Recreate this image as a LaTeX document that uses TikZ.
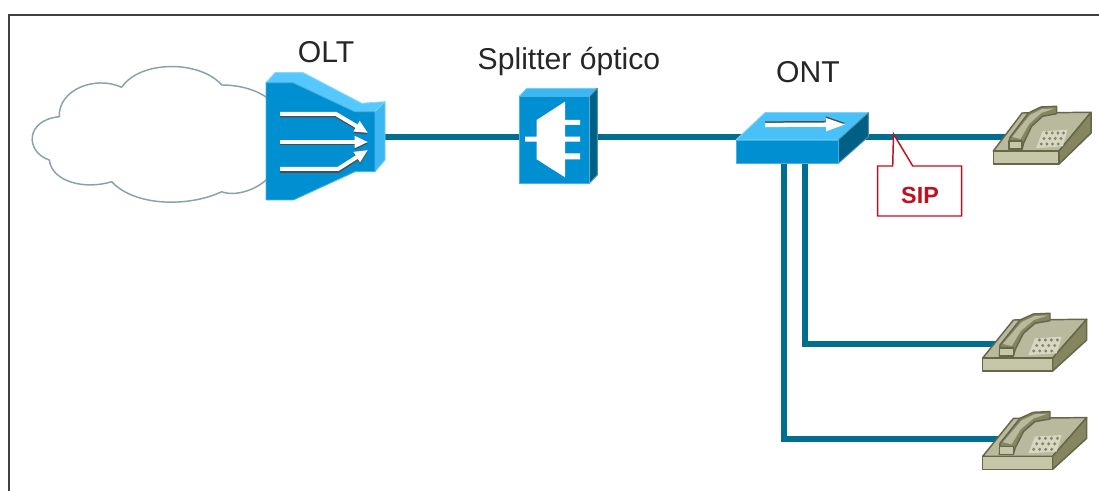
\documentclass[tikz,border=0pt]{standalone}
\usepackage{fontspec}
\setmainfont{Liberation Sans}
\usetikzlibrary{arrows.meta}
\definecolor{fibrecolor}{HTML}{006F8F}
\definecolor{cloudcolor}{HTML}{86A3AA}
\definecolor{bluefront}{HTML}{0090D2}
\definecolor{bluetop}{HTML}{55C8FF}
\definecolor{blueside}{HTML}{005F85}
\definecolor{phoneline}{HTML}{66664A}
\definecolor{phonefront}{HTML}{C6C6A8}
\definecolor{phonetop}{HTML}{B9B99E}
\definecolor{phoneside}{HTML}{85855F}
\definecolor{siprojo}{HTML}{C00F1E}
\begin{document}
\begin{tikzpicture}
	[
		x=0.75pt,
		y=-0.75pt,
		% Make a style for the blue links.
		fibre/.style={color=fibrecolor, line width=3.9pt},
		% And one for the faces of a device.
		face/.style={fill=#1, draw=#1!70!white, line width=0.7pt, line join=round},
		whitearrow/.style={white, line width=3pt, -{Triangle[length=10pt,width=8.5pt]}},
		shadowarrow/.style={black!70, line width=3pt, -{Triangle[length=10pt,width=8.5pt]}},
		caption/.style={font=\fontsize{22.6}{25}\selectfont, text=black!85},
		phonepart/.style={fill=#1, draw=phoneline, line width=1.1pt, line join=round},
		% A telephone, drawn from the lower left corner of its base.
		telephone/.pic={
			\filldraw[phonepart=phonetop] (0,-13) -- (30.7,-51) -- (104,-51.7) -- (70,-13) -- cycle;
			\filldraw[phonepart=phoneside] (70,0) -- (104,-31) -- (104,-51.7) -- (70,-13) -- cycle;
			\filldraw[phonepart=phonefront] (0,0) -- (70,0) -- (70,-13) -- (0,-13) -- cycle;
			\fill[phonefront!70!white] (45.7,-16) -- (52.3,-32.7) -- (79,-34.3) -- (74,-17.7) -- cycle;
			\foreach \r/\s in {0/56.7,1/54,2/51}
				\foreach \c in {0,...,3}
					\fill[phoneline!80!white] (\s+6*\c,-31+5.5*\r) circle (1.7);
			\filldraw[phonepart=phoneside] (17.3,-26) -- (37.3,-51) -- (50.7,-57) -- (67.3,-57.7) -- (67.3,-50.3) -- (52.3,-47.7) -- (40.7,-37.7) -- (32.3,-21) -- (30.7,-15) -- (16.7,-15) -- cycle;
			\fill[phonetop] (20,-27) -- (39,-49) -- (52,-55) -- (65,-55.5) -- (51,-51) -- (38,-40) -- (29,-25) -- cycle;
			\filldraw[phonepart=phonefront] (16.7,-23) -- (30.7,-23) -- (30.7,-15) -- (16.7,-15) -- cycle;
		}
	]
		% Points where the links start and end.
		\coordinate (olt) at (380,137);
		\coordinate (splitter) at (558,137);
		\coordinate (ont) at (800,137);
		\coordinate (onta) at (805,150);
		\coordinate (ontb) at (784,150);
		\coordinate (phonea) at (1015,137);
		\coordinate (phoneb) at (1005,344);
		\coordinate (phonec) at (1005,439);
		\coordinate (siptip) at (893.5,134);

		\useasboundingbox (0,0) rectangle (1099,491);

		% Frame
		\draw[black!75, line width=1pt] (9,491) -- (9,15) -- (1099,15);

		% Cloud
		\draw[color=cloudcolor, line width=1.1pt]
			(121.7,87.3) .. controls (140,60) and (200,60) .. (221.7,85)
			.. controls (240,85) and (258,90) .. (270,100)
			-- (270,176)
			.. controls (258,190) and (235,197) .. (221.7,191.7)
			.. controls (190,207) and (135,207) .. (111.7,181.7)
			.. controls (85,190) and (52,182) .. (49.3,160)
			.. controls (25,152) and (25,120) .. (59.3,116.7)
			.. controls (58,90) and (95,75) .. (121.7,87.3);

		% Draw links
		\draw[fibre] (olt) -- (splitter);
		\draw[fibre] (splitter) -- (ont);
		\draw[fibre] (ont) -- (phonea);
		\draw[fibre] (onta) |- (phoneb);
		\draw[fibre] (ontb) |- (phonec);

		% OLT
		\filldraw[face=bluetop] (266,82.7) -- (275,72.7) -- (303.3,72.7) -- (361.7,103.3) -- (385,101.7) -- (375,111.7) -- (355,111.7) -- (293.3,82.7) -- cycle;
		\filldraw[face=bluetop!70!bluefront] (375,111.7) -- (385,101.7) -- (385,160) -- (375,171.7) -- cycle;
		\filldraw[face=bluefront] (266,82.7) -- (293.3,82.7) -- (355,111.7) -- (375,111.7) -- (375,171.7) -- (355,171.7) -- (293.3,200) -- (266,200) -- cycle;
		\draw[shadowarrow] (280,115.5) -- (336,115.5) -- (368,134.5);
		\draw[shadowarrow] (280,143.5) -- (368,143.5);
		\draw[shadowarrow] (280,171) -- (338,171) -- (368,151.5);
		\draw[whitearrow] (280,114) -- (336,114) -- (368,133);
		\draw[whitearrow] (280,142) -- (368,142);
		\draw[whitearrow] (280,169) -- (338,169) -- (368,150);
		\node[caption] (olttext) at (326,52) {OLT};

		% Splitter
		\filldraw[face=bluetop!70!bluefront] (519,96.7) -- (526.7,88.3) -- (597.3,88.3) -- (589.3,96.7) -- cycle;
		\filldraw[face=blueside] (589.3,96.7) -- (597.3,88.3) -- (597.3,175) -- (589.3,183.3) -- cycle;
		\filldraw[face=bluefront] (519,96.7) -- (589.3,96.7) -- (589.3,183.3) -- (519,183.3) -- cycle;
		\fill[white] (525,136.7) -- (536.7,136.7) -- (536.7,120) -- (565,101.7) -- (565,120) -- (580,120) -- (580,125) -- (565,125) -- (565,136.7) -- (580,136.7) -- (580,141.7) -- (565,141.7) -- (565,153.3) -- (580,153.3) -- (580,159.3) -- (565,159.3) -- (565,177.3) -- (536.7,159.3) -- (536.7,141.7) -- (525,141.7) -- cycle;
		\node[caption] (splittertext) at (569,62) {Splitter óptico};

		% ONT
		\filldraw[face=bluetop!85!bluefront] (736,140) -- (765,112.7) -- (868.3,112.7) -- (838.3,140) -- cycle;
		\filldraw[face=blueside] (838.3,140) -- (868.3,112.7) -- (868.3,136.7) -- (838.3,163.3) -- cycle;
		\filldraw[face=bluefront] (736,140) -- (838.3,140) -- (838.3,163.3) -- (736,163.3) -- cycle;
		\draw[black!70, line width=3.2pt, -{Triangle[length=15pt,width=9pt]}] (765,123.5) -- (846,123);
		\draw[white, line width=3.2pt, -{Triangle[length=15pt,width=9pt]}] (765,125) -- (846,124.5);
		\node[caption] (onttext) at (808,72) {ONT};

		% Telephones
		\pic[xscale=0.94] at (993.3,164) {telephone};
		\pic at (982.7,371) {telephone};
		\pic at (982.7,469.3) {telephone};

		% Callout on the first link
		\draw[siprojo, fill=white, line width=1.1pt] (siptip) -- (912.7,166) -- (961.7,166) -- (961.7,216) -- (877.7,216) -- (877.7,166) -- (892.7,166) -- cycle;
		\node[text=siprojo, font=\fontsize{17.5}{20}\selectfont\bfseries] (siptext) at (920,195) {SIP};
	\end{tikzpicture}
\end{document}
